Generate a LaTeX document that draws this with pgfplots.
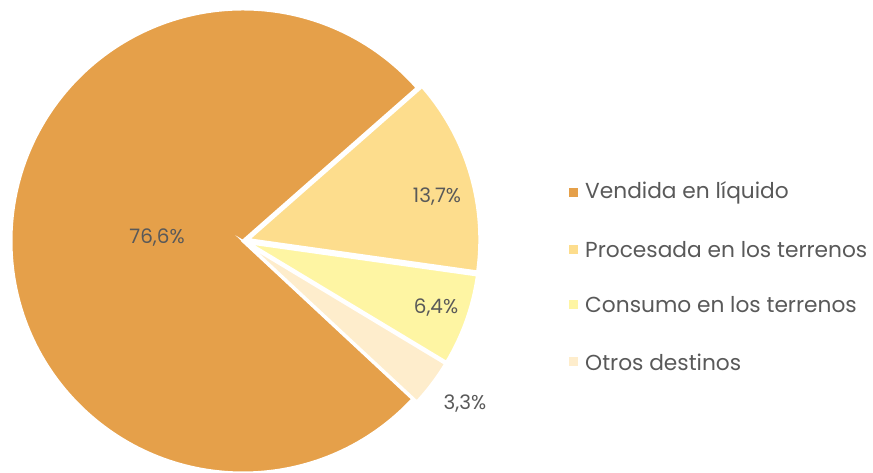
\documentclass[border=0pt]{standalone}
\usepackage{pgfplots}
\pgfplotsset{compat=1.18}
\usepackage{pgfplotstable}
\usepackage{fontspec}
\setmainfont{Poppins}
\definecolor{cA}{HTML}{E5A04A}
\definecolor{cB}{HTML}{FDDD8D}
\definecolor{cC}{HTML}{FEF5A3}
\definecolor{cD}{HTML}{FEEDCC}
\definecolor{txt}{HTML}{595959}
\pgfplotstableread{
name pct
A 76.6
B 13.7
C 6.4
D 3.3
}\piedata
\begin{document}
\begin{tikzpicture}
\begin{axis}[x=1bp,y=1bp,xmin=0,xmax=873,ymin=0,ymax=473,hide axis,clip=false,scale only axis]
\pgfplotstablegetelem{0}{pct}\of\piedata \let\pA\pgfplotsretval
\pgfplotstablegetelem{1}{pct}\of\piedata \let\pB\pgfplotsretval
\pgfplotstablegetelem{2}{pct}\of\piedata \let\pC\pgfplotsretval
\pgfplotstablegetelem{3}{pct}\of\piedata \let\pD\pgfplotsretval
\pgfmathsetmacro\aA{317.06}
\pgfmathsetmacro\aB{\aA-3.6*\pA}
\pgfmathsetmacro\aC{\aB-3.6*\pB}
\pgfmathsetmacro\aD{\aC-3.6*\pC}
\pgfmathsetmacro\aE{\aD-3.6*\pD}
\pgfmathsetmacro\mB{(\aB+\aC)/2}
\pgfmathsetmacro\mC{(\aC+\aD)/2}
\pgfmathsetmacro\mD{(\aD+\aE)/2}
\def\R{232bp}
\def\ex{5bp}
\filldraw[fill=cA,draw=white,line width=3bp,line join=miter] (axis cs:243,232) -- ++(\aA:\R) arc[start angle=\aA,end angle=\aB,radius=\R] -- cycle;
\filldraw[fill=cB,draw=white,line width=3bp,line join=miter,shift={(\mB:\ex)}] (axis cs:243,232) -- ++(\aB:\R) arc[start angle=\aB,end angle=\aC,radius=\R] -- cycle;
\filldraw[fill=cC,draw=white,line width=3bp,line join=miter,shift={(\mC:\ex)}] (axis cs:243,232) -- ++(\aC:\R) arc[start angle=\aC,end angle=\aD,radius=\R] -- cycle;
\filldraw[fill=cD,draw=white,line width=3bp,line join=miter,shift={(\mD:\ex)}] (axis cs:243,232) -- ++(\aD:\R) arc[start angle=\aD,end angle=\aE,radius=\R] -- cycle;
\begin{scope}[every node/.style={text=txt,font=\fontsize{20}{22}\selectfont,inner sep=0pt}]
\node at (axis cs:157,235) {76,6\%};
\node at (axis cs:437,276) {13,7\%};
\node at (axis cs:436,165) {6,4\%};
\node at (axis cs:465,69) {3,3\%};
\end{scope}
\begin{scope}[every node/.style={text=txt,font=\fontsize{21.8}{24}\selectfont,inner sep=0pt,anchor=west}]
\fill[cA] (axis cs:569,276) rectangle (axis cs:578,285);
\node at (axis cs:585,280) {Vendida en líquido};
\fill[cB] (axis cs:569,219) rectangle (axis cs:578,228);
\node at (axis cs:585,223) {Procesada en los terrenos};
\fill[cC] (axis cs:569,164) rectangle (axis cs:578,173);
\node at (axis cs:585,168) {Consumo en los terrenos};
\fill[cD] (axis cs:569,107) rectangle (axis cs:578,116);
\node at (axis cs:585,111) {Otros destinos};
\end{scope}
\end{axis}
\pgfresetboundingbox
\path[use as bounding box] (current axis.south west) rectangle (current axis.north east);
\end{tikzpicture}
\end{document}
